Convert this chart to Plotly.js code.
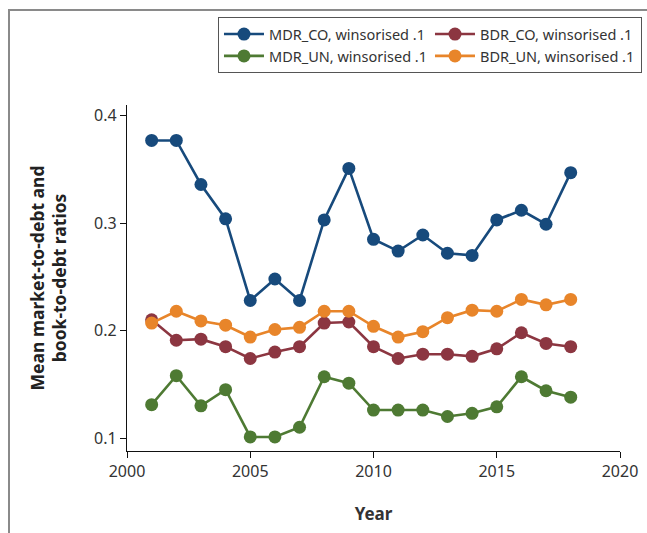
<!DOCTYPE html>
<html>
<head>
<meta charset="utf-8">
<script src="https://cdn.plot.ly/plotly-3.0.1.min.js"></script>
<style>
  html, body { margin: 0; padding: 0; background: #fff; }
  #frame { position: absolute; left: 8px; top: 9px; width: 660px; height: 560px;
           border-top: 2px solid #8a8a8a; border-left: 2px solid #8a8a8a; box-sizing: border-box; pointer-events: none; }
  #chart { width: 647px; height: 533px; }
</style>
</head>
<body>
<div id="chart"></div>
<div id="frame"></div>
<script>
const years = [2001,2002,2003,2004,2005,2006,2007,2008,2009,2010,2011,2012,2013,2014,2015,2016,2017,2018];
const mdrCO = [0.377,0.377,0.336,0.304,0.228,0.248,0.228,0.303,0.351,0.285,0.274,0.289,0.272,0.270,0.303,0.312,0.299,0.347];
const bdrCO = [0.210,0.191,0.192,0.185,0.174,0.180,0.185,0.207,0.208,0.185,0.174,0.178,0.178,0.176,0.183,0.198,0.188,0.185];
const mdrUN = [0.131,0.158,0.130,0.145,0.101,0.101,0.110,0.157,0.151,0.126,0.126,0.126,0.120,0.123,0.129,0.157,0.144,0.138];
const bdrUN = [0.207,0.218,0.209,0.205,0.194,0.201,0.203,0.218,0.218,0.204,0.194,0.199,0.212,0.219,0.218,0.229,0.224,0.229];
const names = ["MDR_CO, winsorised .1","BDR_CO, winsorised .1","MDR_UN, winsorised .1","BDR_UN, winsorised .1"];
const colors = ["#174a7c","#8c3641","#4e7a33","#e8852a"];
const series = [mdrCO, bdrCO, mdrUN, bdrUN];

const traces = series.map((s, i) => ({
  x: years, y: s, name: names[i], type: "scatter", mode: "lines+markers",
  line: {color: colors[i], width: 2.6},
  marker: {color: colors[i], size: 13}
}));
const layout = {
  width: 647, height: 533,
  margin: {l: 127, r: 27, t: 105, b: 82, autoexpand: false},
  paper_bgcolor: "#fff", plot_bgcolor: "#fff",
  font: {family: "Noto Sans, Open Sans, sans-serif", color: "#333", size: 14},
  showlegend: true,
  legend: {
    orientation: "h", x: 1.0446, xanchor: "right", y: 1.254, yanchor: "top",
    entrywidth: 156, entrywidthmode: "pixels",
    bordercolor: "#555", borderwidth: 1, bgcolor: "#fff",
    font: {size: 14.5, color: "#333"}, itemwidth: 40, tracegroupgap: 0
  },
  xaxis: {
    range: [2000, 2020], tickvals: [2000,2005,2010,2015,2020],
    ticks: "outside", ticklen: 6, tickcolor: "#111", showline: true, linecolor: "#111", linewidth: 1.2,
    showgrid: false, zeroline: false, tickfont: {size: 16, color: "#333"},
    title: {text: "Year", font: {size: 17, color: "#333", weight: "bold"}, standoff: 26}
  },
  yaxis: {
    range: [0.0879, 0.410], tickvals: [0.1,0.2,0.3,0.4], ticktext: ["0.1","0.2","0.3","0.4"],
    ticks: "outside", ticklen: 6, tickcolor: "#111", showline: true, linecolor: "#111", linewidth: 1.2,
    showgrid: false, zeroline: false, tickfont: {size: 16, color: "#333"},
    title: {text: "Mean market-to-debt and<br>book-to-debt ratios", font: {size: 17.5, color: "#222", weight: "bold"}, standoff: 22}
  }
};
Plotly.newPlot("chart", traces, layout, {displayModeBar: false, staticPlot: true});
</script>
</body>
</html>
